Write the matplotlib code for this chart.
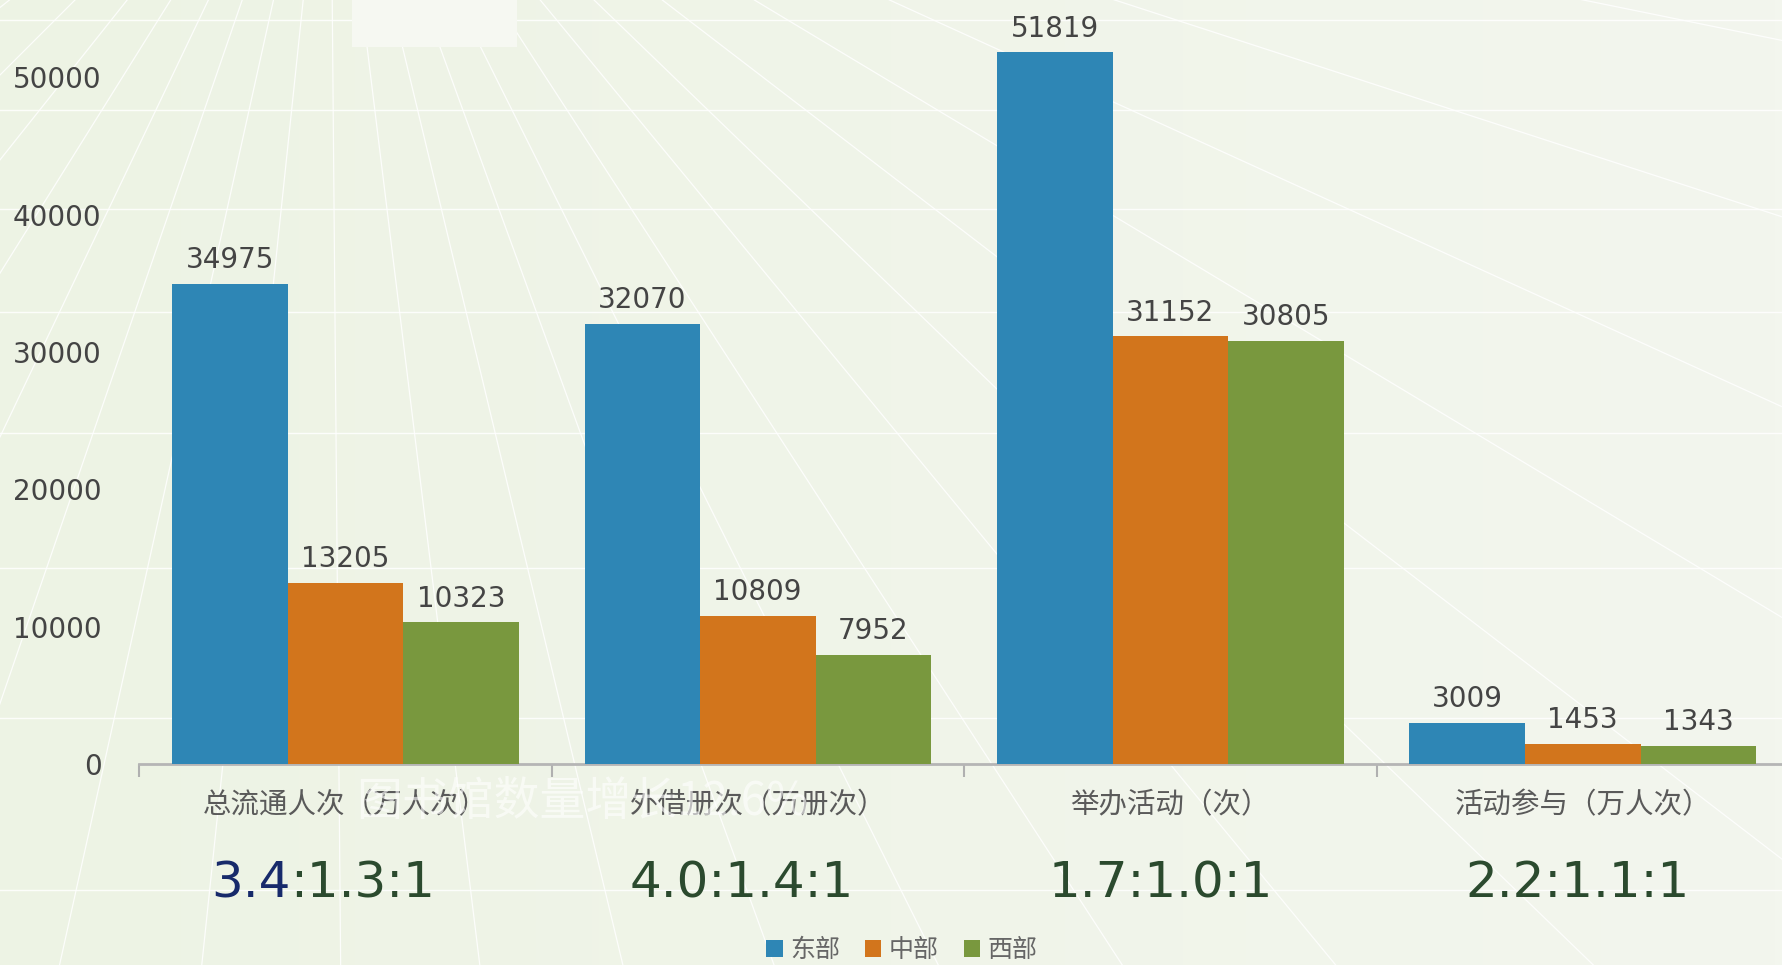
import numpy as np
import matplotlib
matplotlib.use("Agg")
import matplotlib.pyplot as plt
from matplotlib.patches import Rectangle

# data
categories = ["总流通人次（万人次）", "外借册次（万册次）", "举办活动（次）", "活动参与（万人次）"]
regions = ["东部", "中部", "西部"]
east = [34975, 32070, 51819, 3009]
middle = [13205, 10809, 31152, 1453]
west = [10323, 7952, 30805, 1343]
ratios = ["3.4:1.3:1", "4.0:1.4:1", "1.7:1.0:1", "2.2:1.1:1"]
yticks = [0, 10000, 20000, 30000, 40000, 50000]

# layout tweaks (ratio boxes sit a bit left of the category centres on the slide)
ratio_shift = [-22, -16, -10, -5]

colors = ["#2e86b5", "#d2751c", "#79983e"]
cjk = ["Noto Sans CJK SC", "DejaVu Sans"]

W, H = 1782, 965
fig = plt.figure(figsize=(W / 100, H / 100), dpi=100)
fig.patch.set_facecolor("#eff4e7")

# decorative slide background: perspective fan + horizontal lines
bg = fig.add_axes([0, 0, 1, 1], zorder=0)
bg.set_xlim(0, W)
bg.set_ylim(H, 0)
bg.axis("off")
grad = np.linspace(0, 1, 256).reshape(1, -1)
bg.imshow(grad, extent=[0, W, H, 0], aspect="auto", cmap=matplotlib.colors.LinearSegmentedColormap.from_list(
    "bgc", ["#edf3e4", "#f3f6ee"]), zorder=0)
vx, vy = 330, -255
for ang in np.arange(-84, 85, 6.5):
    a = np.deg2rad(ang)
    L = 4000
    bg.plot([vx, vx + L * np.sin(a)], [vy, vy + L * np.cos(a)], color="white", lw=0.9, alpha=0.85, zorder=1)
for hy in [20, 110, 209, 312, 433, 568, 718, 890]:
    bg.axhline(hy, color="white", lw=1.0, alpha=0.85, zorder=1)
bg.add_patch(Rectangle((352, 0), 165, 47, facecolor="#f6f8f2", edgecolor="none", zorder=2))

# main chart
left, right = 139 / W, 1789 / W
bottom, top = 201 / H, 1.0
ax = fig.add_axes([left, bottom, right - left, top - bottom], zorder=2)
ax.patch.set_alpha(0)
x = np.arange(len(categories))
bw = 0.28
for i, (vals, c) in enumerate(zip([east, middle, west], colors)):
    pos = x + (i - 1) * bw
    ax.bar(pos, vals, width=bw, color=c, edgecolor="none", label=regions[i], zorder=3)
    for p, v in zip(pos, vals):
        ax.annotate(str(v), (p, v), xytext=(0, 7), textcoords="offset points",
                    ha="center", va="bottom", fontsize=20, color="#444444",
                    family="DejaVu Sans")

ax.set_xlim(-0.5, 3.5)
ax.set_ylim(0, 55640)
ax.set_yticks(yticks)
ax.set_yticklabels([str(t) for t in yticks], fontsize=20, color="#444444", family="DejaVu Sans")
ax.tick_params(axis="y", length=0, pad=27)
ax.set_xticks(x)
ax.set_xticklabels(categories, family=cjk, fontsize=20.5, color="#5a5a5a")
ax.tick_params(axis="x", length=0, pad=19)
ax.set_xticks(np.arange(-0.5, 3.6, 1), minor=True)
ax.tick_params(axis="x", which="minor", length=9, width=1.5, color="#b0b0b0")
for s in ["top", "right", "left"]:
    ax.spines[s].set_visible(False)
ax.spines["bottom"].set_color("#b5b5b5")
ax.spines["bottom"].set_linewidth(2)

# ratio text under each category
green_txt, navy_txt = "#2b4a2e", "#172a6b"
for xi, r, dx in zip(x, ratios, ratio_shift):
    if xi == 0:
        ghost = ax.annotate(r, (xi, 0), xycoords=("data", "axes fraction"), xytext=(dx, -119),
                            textcoords="offset pixels", ha="center", va="center",
                            fontsize=36, alpha=0)
        head = ax.annotate(r[:3], (0, 0.5), xycoords=ghost, ha="left", va="center",
                           fontsize=36, color=navy_txt)
        ax.annotate(r[3:], (1, 0.5), xycoords=head, ha="left", va="center",
                    fontsize=36, color=green_txt)
    else:
        ax.annotate(r, (xi, 0), xycoords=("data", "axes fraction"), xytext=(dx, -119),
                    textcoords="offset pixels", ha="center", va="center",
                    fontsize=36, color=green_txt)

# faint watermark text from the slide
fig.text(356 / W, 1 - 802 / H, "图书馆数量增长12.6%", family=cjk, fontsize=33,
         color="white", alpha=0.6, va="center", ha="left", zorder=5)

leg = fig.legend(loc="center", bbox_to_anchor=(902 / W, 1 - 950 / H), ncol=3, frameon=False,
                 prop={"family": cjk, "size": 18}, handlelength=0.65, handleheight=0.65,
                 handletextpad=0.3, columnspacing=1.0)
for t in leg.get_texts():
    t.set_color("#666666")

fig.savefig("out.png", dpi=100, facecolor=fig.get_facecolor())
